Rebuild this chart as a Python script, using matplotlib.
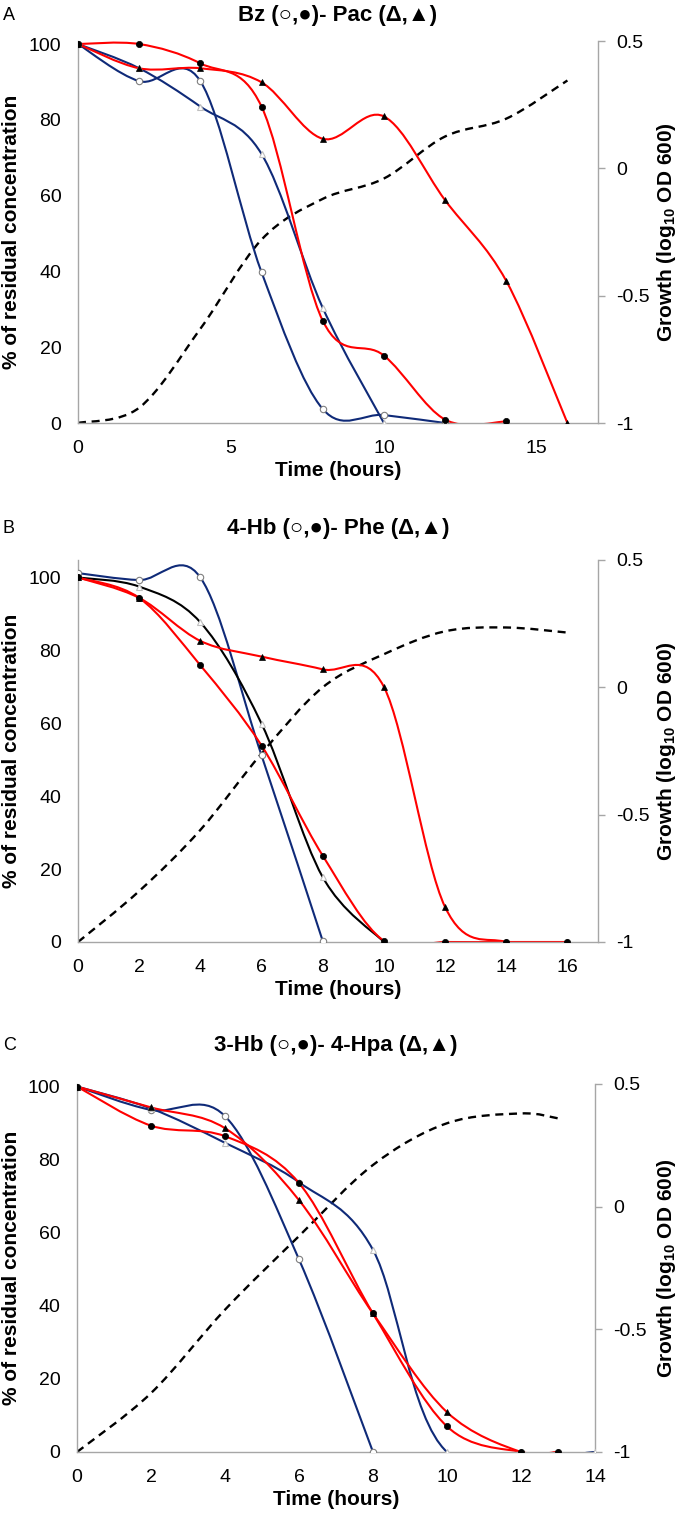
import numpy as np
import matplotlib
matplotlib.use("Agg")
import matplotlib.pyplot as plt
from matplotlib.path import Path
from matplotlib.patches import PathPatch

plt.rcParams['font.family'] = ['Liberation Sans', 'DejaVu Sans']
plt.rcParams['mathtext.fontset'] = 'custom'
plt.rcParams['mathtext.rm'] = 'Liberation Sans:bold'
plt.rcParams['mathtext.it'] = 'Liberation Sans:bold'
plt.rcParams['mathtext.bf'] = 'Liberation Sans:bold'

# ---- panel A : Bz / Pac ----
a_bz_open_t = [0, 2, 4, 6, 8, 10, 12]
a_bz_open = [100, 90.2, 90.2, 39.8, 3.7, 2.1, 0]
a_bz_fill_t = [0, 2, 4, 6, 8, 10, 12, 14]
a_bz_fill = [100, 100, 94.9, 83.5, 27, 17.8, 0.9, 0.4]
a_pac_open_t = [0, 2, 4, 6, 8, 10]
a_pac_open = [100, 93.6, 83.5, 71, 30.4, 0]
a_pac_fill_t = [0, 2, 4, 6, 8, 10, 12, 14, 16]
a_pac_fill = [100, 93.6, 93.6, 89.9, 75, 80.9, 58.8, 37.5, 0]
a_growth_t = [0, 2, 4, 6, 8, 10, 12, 14, 16]
a_growth = [-1, -0.94, -0.63, -0.28, -0.12, -0.04, 0.125, 0.195, 0.345]

# ---- panel B : 4-Hb / Phe ----
b_hb_open_t = [0, 2, 4, 6, 8]
b_hb_open = [101.2, 99.3, 100, 51.2, 0.3]
b_hb_fill_t = [0, 2, 4, 6, 8, 10, 12, 14, 16]
b_hb_fill = [100, 94.4, 75.9, 53.9, 23.7, 0.3, 0, 0, 0]
b_phe_open_t = [0, 2, 4, 6, 8, 10]
b_phe_open = [100, 97.5, 87.7, 59.9, 17.8, 0]
b_phe_fill_t = [0, 2, 4, 6, 8, 10, 12, 14, 16]
b_phe_fill = [100, 94.4, 82.6, 78.3, 74.8, 70, 9.6, 0, 0]
b_growth_t = [0, 2, 4, 6, 8, 10, 12, 14, 16]
b_growth = [-1, -0.80, -0.56, -0.26, 0.0, 0.13, 0.22, 0.235, 0.215]

# ---- panel C : 3-Hb / 4-Hpa ----
c_hb_open_t = [0, 2, 4, 6, 8]
c_hb_open = [100, 93.6, 91.9, 52.7, 0]
c_hb_fill_t = [0, 2, 4, 6, 8, 10, 12, 13]
c_hb_fill = [100, 89.3, 86.4, 73.6, 37.9, 7.0, 0, 0]
c_hpa_open_t = [0, 2, 4, 6, 8, 10, 14]
c_hpa_open = [100, 94, 84.6, 73.8, 55.3, 0, 0]
c_hpa_fill_t = [0, 2, 4, 6, 8, 10, 12, 13]
c_hpa_fill = [100, 94.3, 88.6, 68.9, 37.9, 10.9, 0, 0]
c_growth_t = [0, 2, 4, 6, 8, 10, 12, 13]
c_growth = [-1, -0.76, -0.42, -0.12, 0.17, 0.34, 0.38, 0.36]

RED = '#FF0000'
BLUE = '#0F2A78'
GREY = '#A6A6A6'


def smooth(ax, x, y, color, lw=1.5, ls='-'):
    # excel-like smoothed line: bezier segments through the data points
    pts = np.column_stack([x, y]).astype(float)
    n = len(pts)
    verts = [pts[0]]
    codes = [Path.MOVETO]
    for i in range(n - 1):
        p0 = pts[max(i - 1, 0)]
        p1 = pts[i]
        p2 = pts[i + 1]
        p3 = pts[min(i + 2, n - 1)]
        verts += [p1 + (p2 - p0) / 6, p2 - (p3 - p1) / 6, p2]
        codes += [Path.CURVE4] * 3
    ax.add_patch(PathPatch(Path(verts, codes), fill=False, edgecolor=color,
                           lw=lw, linestyle=ls, capstyle='butt', zorder=2))


def marks(ax, x, y, kind):
    if kind == 'oc':
        ax.plot(x, y, ls='none', marker='o', ms=4.6, mfc='white', mec='#7F7F7F', mew=0.8, zorder=4)
    elif kind == 'fc':
        ax.plot(x, y, ls='none', marker='o', ms=4.5, mfc='black', mec='black', mew=0.5, zorder=5)
    elif kind == 'ot':
        ax.plot(x, y, ls='none', marker='^', ms=4.8, mfc='white', mec='#BFBFBF', mew=0.8, zorder=4)
    else:
        ax.plot(x, y, ls='none', marker='^', ms=4.3, mfc='black', mec='black', mew=0.5, zorder=5)


fig = plt.figure(figsize=(6.8, 15.15), dpi=100)
W, H = 680.0, 1515.0

panels = [
    dict(box=(78, 598, 423, 41), ymax=100.8, xmax=17, xt=[0, 5, 10, 15],
         title='Bz (○,●)- Pac (Δ,▲)', letter='A', ty=15,
         lines=[(a_bz_open_t, a_bz_open, BLUE, 'oc'), (a_pac_open_t, a_pac_open, BLUE, 'ot'),
                (a_bz_fill_t, a_bz_fill, RED, 'fc'), (a_pac_fill_t, a_pac_fill, RED, 'ft')],
         growth=(a_growth_t, a_growth)),
    dict(box=(78, 598, 942, 560), ymax=104.8, xmax=17, xt=list(range(0, 17, 2)),
         title='4-Hb (○,●)- Phe (Δ,▲)', letter='B', ty=529,
         lines=[(b_hb_open_t, b_hb_open, BLUE, 'oc'), (b_phe_open_t, b_phe_open, 'black', 'ot'),
                (b_hb_fill_t, b_hb_fill, RED, 'fc'), (b_phe_fill_t, b_phe_fill, RED, 'ft')],
         growth=(b_growth_t, b_growth)),
    dict(box=(77, 595, 1452, 1084), ymax=100.7, xmax=14, xt=list(range(0, 15, 2)),
         title='3-Hb (○,●)- 4-Hpa (Δ,▲)', letter='C', ty=1046,
         lines=[(c_hb_open_t, c_hb_open, BLUE, 'oc'), (c_hpa_open_t, c_hpa_open, BLUE, 'ot'),
                (c_hb_fill_t, c_hb_fill, RED, 'fc'), (c_hpa_fill_t, c_hpa_fill, RED, 'ft')],
         growth=(c_growth_t, c_growth)),
]

for p in panels:
    l, r, b, t = p['box']
    ax = fig.add_axes([l / W, 1 - b / H, (r - l) / W, (b - t) / H])
    ax2 = ax.twinx()
    ax.set_zorder(2)
    ax.patch.set_visible(False)

    ax.set_xlim(0, p['xmax'])
    ax.set_ylim(0, p['ymax'])
    ax2.set_ylim(-1, 0.5)
    ax.set_xticks(p['xt'])
    ax.set_yticks([0, 20, 40, 60, 80, 100])
    ax2.set_yticks([-1, -0.5, 0, 0.5])
    ax2.set_yticklabels(['-1', '-0.5', '0', '0.5'])

    for a in (ax, ax2):
        for s in a.spines.values():
            s.set_color(GREY)
            s.set_linewidth(1.0)
        a.spines['top'].set_visible(False)
    ax.spines['right'].set_visible(False)
    ax2.spines['left'].set_visible(False)
    ax2.spines['bottom'].set_visible(False)
    ax.tick_params(axis='both', length=0, labelsize=14, pad=12)
    ax2.tick_params(axis='y', length=5, width=1, color=GREY, labelsize=14, pad=8)

    smooth(ax2, p['growth'][0], p['growth'][1], 'black', lw=1.7, ls=(0, (3.4, 2.4)))
    for x, y, c, k in p['lines']:
        smooth(ax, x, y, c)
    for x, y, c, k in p['lines']:
        marks(ax, x, y, k)

    ax.set_xlabel('Time (hours)', fontsize=15, fontweight='bold', labelpad=3)
    cy = 1 - (b + t) / 2 / H
    fig.text(12 / W, cy, '% of residual concentration', rotation=90, ha='center',
             va='center', fontsize=15, fontweight='bold')
    fig.text(667 / W, cy, r'Growth (log$_{10}$ OD 600)', rotation=90, ha='center',
             va='center', fontsize=15, fontweight='bold')
    fig.text((l + r) / 2 / W, 1 - p['ty'] / H, p['title'], ha='center', va='center',
             fontsize=16, fontweight='bold')
    fig.text(3 / W, 1 - p['ty'] / H, p['letter'], ha='left', va='center', fontsize=13)

fig.savefig('out.png', dpi=100)
